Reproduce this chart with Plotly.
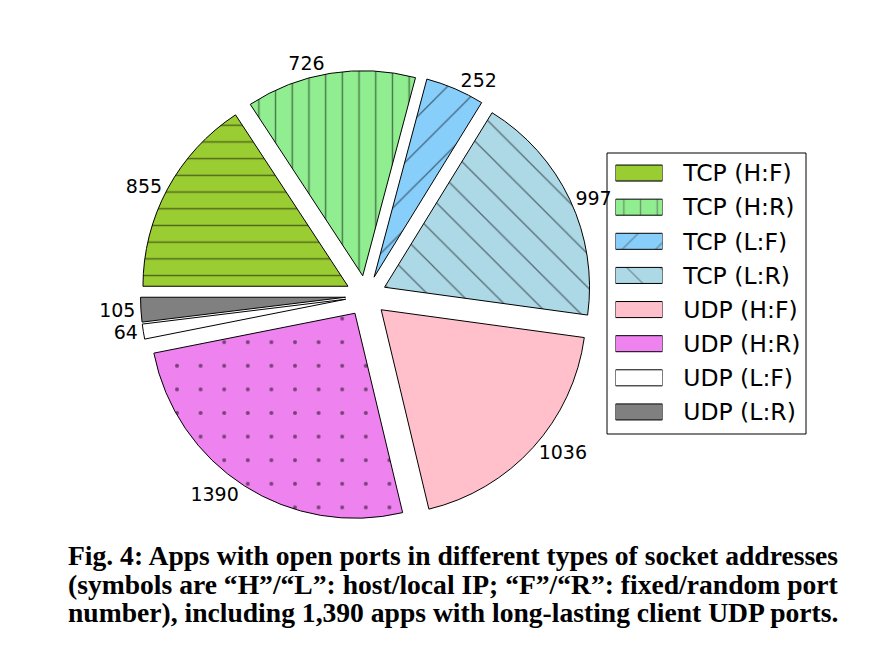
import plotly.graph_objects as go

labels = ["TCP (H:F)", "TCP (H:R)", "TCP (L:F)", "TCP (L:R)",
          "UDP (H:F)", "UDP (H:R)", "UDP (L:F)", "UDP (L:R)"]
values = [855, 726, 252, 997, 1036, 1390, 64, 105]
colors = ["#9ACD32", "#90EE90", "#87CEFA", "#ADD8E6",
          "#FFC0CB", "#EE82EE", "#FFFFFF", "#808080"]
hatches = ["-", "|", "/", "\\", "", ".", "", ""]
hatch_sizes = [16.7, 16.7, 23.6, 23.6, 10, 23.6, 10, 10]
hatch_solidity = [0.085, 0.085, 0.055, 0.055, 0.2, 0.022, 0.2, 0.2]
caption = [
    "Fig. 4: Apps with open ports in different types of socket addresses",
    "(symbols are \u201cH\u201d/\u201cL\u201d: host/local IP; \u201cF\u201d/\u201cR\u201d: fixed/random port",
    "number), including 1,390 apps with long-lasting client UDP ports.",
]

W, H = 887, 663
FONT = "DejaVu Sans"

fig = go.Figure()

# pie
cx, cy, R, pull = 366, 296, 205, 0.1
half = R * (1 + pull)
fig.add_trace(go.Pie(
    labels=labels, values=values, sort=False, direction="clockwise",
    rotation=-90, pull=[pull] * len(values),
    marker=dict(colors=colors, line=dict(color="black", width=1),
                pattern=dict(shape=hatches, size=hatch_sizes,
                             solidity=hatch_solidity, fgcolor="black",
                             fillmode="overlay")),
    texttemplate="%{value}", textposition="outside",
    textfont=dict(family=FONT, size=19, color="black"),
    showlegend=False, hoverinfo="label+value",
    domain=dict(x=[(cx - half) / W, (cx + half) / W],
                y=[1 - (cy + half) / H, 1 - (cy - half) / H]),
))

# custom legend swatches
fig.add_trace(go.Bar(
    x=[1] * len(labels), y=labels, orientation="h", width=0.47,
    marker=dict(color=colors, line=dict(color="black", width=1),
                pattern=dict(shape=hatches, size=hatch_sizes,
                             solidity=hatch_solidity, fgcolor="black",
                             fillmode="overlay")),
    xaxis="x", yaxis="y", showlegend=False, hoverinfo="skip",
))

fig.update_layout(
    width=W, height=H, margin=dict(l=0, r=0, t=0, b=0),
    paper_bgcolor="white", plot_bgcolor="rgba(0,0,0,0)",
    xaxis=dict(domain=[615.5 / W, 662.5 / W], range=[0, 1], visible=False,
               fixedrange=True),
    yaxis=dict(domain=[1 - 429 / H, 1 - 156 / H], type="category",
               autorange="reversed", side="right", anchor="x",
               showline=False, showgrid=False, zeroline=False,
               ticks="outside", ticklen=15, tickcolor="rgba(0,0,0,0)",
               tickfont=dict(family=FONT, size=23.5, color="black")),
    shapes=[dict(type="rect", xref="paper", yref="paper",
                 x0=607 / W, x1=806 / W, y0=1 - 434 / H, y1=1 - 153 / H,
                 line=dict(color="black", width=1))],
)

cap_y = [555, 584, 612]
for txt, yy in zip(caption, cap_y):
    fig.add_annotation(text=txt, xref="paper", yref="paper",
                       x=66 / W, y=1 - yy / H, xanchor="left", yanchor="middle",
                       showarrow=False,
                       font=dict(family="Liberation Serif", size=27.6,
                                 color="black", weight="bold"))

fig.write_html("out.html")
